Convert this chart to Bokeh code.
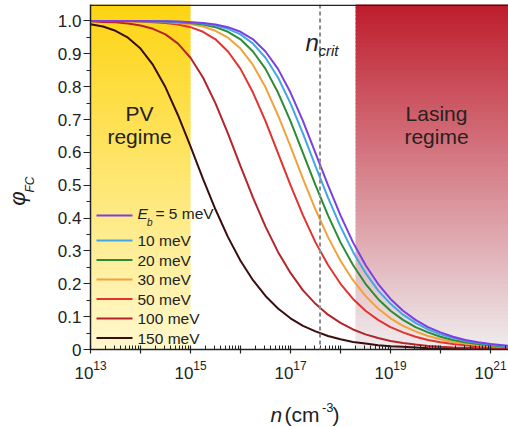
from math import pi
from bokeh.plotting import figure
from bokeh.layouts import row, column
from bokeh.models import (Range1d, FixedTicker, LogTickFormatter, CustomJSTickFormatter,
                          Span, Label, PolyAnnotation)
from bokeh.embed import file_html
from bokeh.resources import INLINE

# ---------------- data ----------------
log10_n = [13.0, 13.25, 13.5, 13.75, 14.0, 14.25, 14.5, 14.75, 15.0, 15.25, 15.5, 15.75,
           16.0, 16.25, 16.5, 16.75, 17.0, 17.25, 17.5, 17.75, 18.0, 18.25, 18.5, 18.75,
           19.0, 19.25, 19.5, 19.75, 20.0, 20.25, 20.5, 20.75, 21.0, 21.25, 21.5]

phi_5 = [1.000, 1.000, 1.000, 1.000, 1.000, 0.999, 0.999, 0.998, 0.996, 0.994, 0.989, 0.981,
         0.967, 0.944, 0.907, 0.854, 0.782, 0.695, 0.598, 0.500, 0.408, 0.326, 0.257, 0.200,
         0.154, 0.118, 0.090, 0.068, 0.052, 0.039, 0.029, 0.022, 0.017, 0.013, 0.009]
phi_10 = [1.000, 1.000, 1.000, 1.000, 1.000, 0.999, 0.999, 0.997, 0.996, 0.992, 0.986, 0.976,
          0.959, 0.931, 0.888, 0.828, 0.749, 0.657, 0.558, 0.462, 0.374, 0.297, 0.233, 0.180,
          0.139, 0.106, 0.081, 0.061, 0.046, 0.035, 0.026, 0.020, 0.015, 0.011, 0.008]
phi_20 = [1.000, 1.000, 1.000, 1.000, 0.999, 0.999, 0.998, 0.996, 0.994, 0.989, 0.981, 0.967,
          0.944, 0.907, 0.854, 0.782, 0.695, 0.598, 0.500, 0.408, 0.326, 0.257, 0.200, 0.154,
          0.118, 0.090, 0.068, 0.052, 0.039, 0.029, 0.022, 0.017, 0.013, 0.009, 0.007]
phi_30 = [1.000, 1.000, 1.000, 0.999, 0.999, 0.998, 0.997, 0.994, 0.990, 0.983, 0.970, 0.949,
          0.916, 0.866, 0.798, 0.713, 0.618, 0.519, 0.426, 0.342, 0.270, 0.211, 0.163, 0.125,
          0.095, 0.072, 0.055, 0.041, 0.031, 0.023, 0.018, 0.013, 0.010, 0.008, 0.006]
phi_50 = [1.000, 1.000, 0.999, 0.999, 0.998, 0.996, 0.994, 0.989, 0.981, 0.967, 0.944, 0.907,
          0.854, 0.782, 0.695, 0.598, 0.500, 0.408, 0.326, 0.257, 0.200, 0.154, 0.118, 0.090,
          0.068, 0.052, 0.039, 0.029, 0.022, 0.017, 0.013, 0.009, 0.007, 0.005, 0.004]
phi_100 = [0.999, 0.997, 0.996, 0.992, 0.986, 0.976, 0.959, 0.931, 0.888, 0.828, 0.749, 0.657,
           0.558, 0.462, 0.374, 0.297, 0.233, 0.180, 0.139, 0.106, 0.081, 0.061, 0.046, 0.035,
           0.026, 0.020, 0.015, 0.011, 0.008, 0.006, 0.005, 0.004, 0.003, 0.002, 0.002]
phi_150 = [0.990, 0.983, 0.970, 0.949, 0.916, 0.866, 0.798, 0.713, 0.618, 0.519, 0.426, 0.342,
           0.270, 0.211, 0.163, 0.125, 0.095, 0.072, 0.055, 0.041, 0.031, 0.023, 0.018, 0.013,
           0.010, 0.008, 0.006, 0.004, 0.003, 0.002, 0.002, 0.001, 0.001, 0.001, 0.001]

series_labels = ["5 meV", "10 meV", "20 meV", "30 meV", "50 meV", "100 meV", "150 meV"]
series_values = [phi_5, phi_10, phi_20, phi_30, phi_50, phi_100, phi_150]
series_colors = ["#7B3FE4", "#3FA8E6", "#2B8C36", "#F2A23A", "#E2332F", "#B3252B", "#3A0E0E"]

pv_region = [1e13, 1e15]
lasing_region = [2.0e18, 1e22]
n_crit = 3.9e17

y_ticks = [0, 0.1, 0.2, 0.3, 0.4, 0.5, 0.6, 0.7, 0.8, 0.9, 1.0]
y_minor = [0.05, 0.15, 0.25, 0.35, 0.45, 0.55, 0.65, 0.75, 0.85, 0.95]
x_exponents = [13, 14, 15, 16, 17, 18, 19, 20, 21]
x_labelled = [13, 15, 17, 19, 21]

FONT = "Liberation Sans"
INK = "#222222"

n_values = [10.0 ** e for e in log10_n]

# canvas split: left strip 40 px (y title), main 468x400, bottom strip 468x27 (x title)
p = figure(width=468, height=400, x_axis_type="log",
           x_range=Range1d(1e13, 10 ** 21.36), y_range=Range1d(0, 1.05),
           output_backend="svg", toolbar_location=None,
           min_border_left=50, min_border_right=0, min_border_top=4, min_border_bottom=51)
p.xgrid.visible = False
p.ygrid.visible = False
p.outline_line_color = None
p.background_fill_color = "white"
p.border_fill_color = "white"

# ---------------- gradient backgrounds ----------------
Y0, Y1 = 0.0, 1.05
NS = 90
edges = [Y0 + (Y1 - Y0) * i / NS for i in range(NS + 1)]
bottoms = edges[:-1]
tops = [e + 0.004 for e in edges[1:]]


def mix(c_bottom, c_top, t):
    return "#%02x%02x%02x" % tuple(int(round(a + (b - a) * t)) for a, b in zip(c_bottom, c_top))


fracs = [((b + e) / 2 - Y0) / (Y1 - Y0) for b, e in zip(bottoms, edges[1:])]
yellow = [mix((255, 248, 206), (253, 212, 18), f) for f in fracs]
red = [mix((239, 237, 239), (190, 28, 44), f) for f in fracs]

p.quad(left=pv_region[0], right=pv_region[1], bottom=bottoms, top=tops,
       fill_color=yellow, line_color=None)
p.quad(left=lasing_region[0], right=lasing_region[1], bottom=bottoms, top=tops,
       fill_color=red, line_color=None)

# critical density
p.add_layout(Span(location=n_crit, dimension="height", line_color="#8a8a8a",
                  line_width=2, line_dash="4 3"))

# curves
for vals, col in zip(series_values[::-1], series_colors[::-1]):
    p.line(n_values, vals, line_color=col, line_width=2)

# top border
p.add_layout(Span(location=1.048, dimension="width", line_color=INK, line_width=1.5))

# ---------------- axes ----------------
xax = p.xaxis[0]
xax.ticker = FixedTicker(ticks=[10.0 ** k for k in x_exponents],
                         minor_ticks=[m * 10.0 ** k for k in x_exponents for m in range(2, 10)])
xax.formatter = LogTickFormatter()
xax.major_label_overrides = {10.0 ** k: "" for k in x_exponents if k not in x_labelled}
xax.major_tick_in = 4
xax.major_tick_out = 4
xax.minor_tick_in = 4
xax.minor_tick_out = 0
xax.major_label_standoff = 7

yax = p.yaxis[0]
yax.ticker = FixedTicker(ticks=y_ticks, minor_ticks=y_minor)
yax.formatter = CustomJSTickFormatter(code="return tick == 0 ? '0' : tick.toFixed(1);")
yax.major_tick_in = 0
yax.major_tick_out = 7
yax.minor_tick_in = 0
yax.minor_tick_out = 4
yax.major_label_standoff = 2

for ax in (xax, yax):
    ax.axis_line_color = INK
    ax.axis_line_width = 1.5
    ax.major_tick_line_color = INK
    ax.minor_tick_line_color = INK
    ax.major_tick_line_width = 1.2
    ax.minor_tick_line_width = 1.0
    ax.major_label_text_font = FONT
    ax.major_label_text_font_size = "17px"
    ax.major_label_text_color = INK


def lab(fig, x, y, text, size, style="normal", align="left", baseline="alphabetic",
        angle=0.0, color=INK):
    fig.add_layout(Label(x=x, y=y, x_units="screen", y_units="screen", text=text,
                         text_font=FONT, text_font_size=size, text_font_style=style,
                         text_align=align, text_baseline=baseline, angle=angle,
                         text_color=color))


# main frame origin (screen units): left edge, bottom edge of the plotting area
lab(p, 49, 236, "PV", "21px", align="center")
lab(p, 49, 213, "regime", "21px", align="center")
lab(p, 346, 236, "Lasing", "21px", align="center", color="#2a2020")
lab(p, 346, 213, "regime", "21px", align="center", color="#2a2020")

# n_crit
lab(p, 215, 307, "n", "24px", style="italic")
lab(p, 228, 299, "crit", "15px", style="italic")

# ---------------- legend (manual) ----------------
row_y = [134, 109, 89.5, 70, 50.5, 31, 11.5]
for i, (txt, col, y) in enumerate(zip(series_labels, series_colors, row_y)):
    p.add_layout(PolyAnnotation(xs=[6, 42, 42, 6], ys=[y - 1, y - 1, y + 1, y + 1],
                                xs_units="screen", ys_units="screen",
                                fill_color=col, fill_alpha=1.0, line_color=None))
    if i == 0:
        lab(p, 47, y + 2, "E", "15.5px", style="italic", baseline="middle")
        lab(p, 56.5, y - 7, "b", "10px", style="italic", baseline="middle")
        lab(p, 65, y + 2, "= " + txt, "15.5px", baseline="middle")
    else:
        lab(p, 47, y, txt, "15.5px", baseline="middle")


def blank(w, h, left=0):
    f = figure(width=w, height=h, x_range=Range1d(0, 1), y_range=Range1d(0, 1),
               output_backend="svg", toolbar_location=None,
               x_axis_location=None, y_axis_location=None, min_border=0,
               min_border_left=left, min_border_right=0, min_border_top=0, min_border_bottom=0)
    f.xgrid.visible = False
    f.ygrid.visible = False
    f.outline_line_color = None
    f.background_fill_color = "white"
    f.border_fill_color = "white"
    return f


# y title strip (40 x 427)
ylab = blank(40, 427)
lab(ylab, 17, 427 - 198, "\u03c6", "22px", style="italic", align="center",
    baseline="middle", angle=pi / 2)
lab(ylab, 29, 427 - 184, "FC", "12px", style="italic", align="center",
    baseline="middle", angle=pi / 2)

# x title strip (468 x 27); its frame starts at canvas x = 90
xlab = blank(468, 27, left=50)
lab(xlab, 180, 13, "n", "21px", style="italic")
lab(xlab, 194, 13, "(cm", "21px")
lab(xlab, 231.5, 20, "-3", "13px")
lab(xlab, 242, 13, ")", "21px")

layout = row(ylab, column(p, xlab, spacing=0), spacing=0)

open("out.html", "w").write(file_html(layout, INLINE))
